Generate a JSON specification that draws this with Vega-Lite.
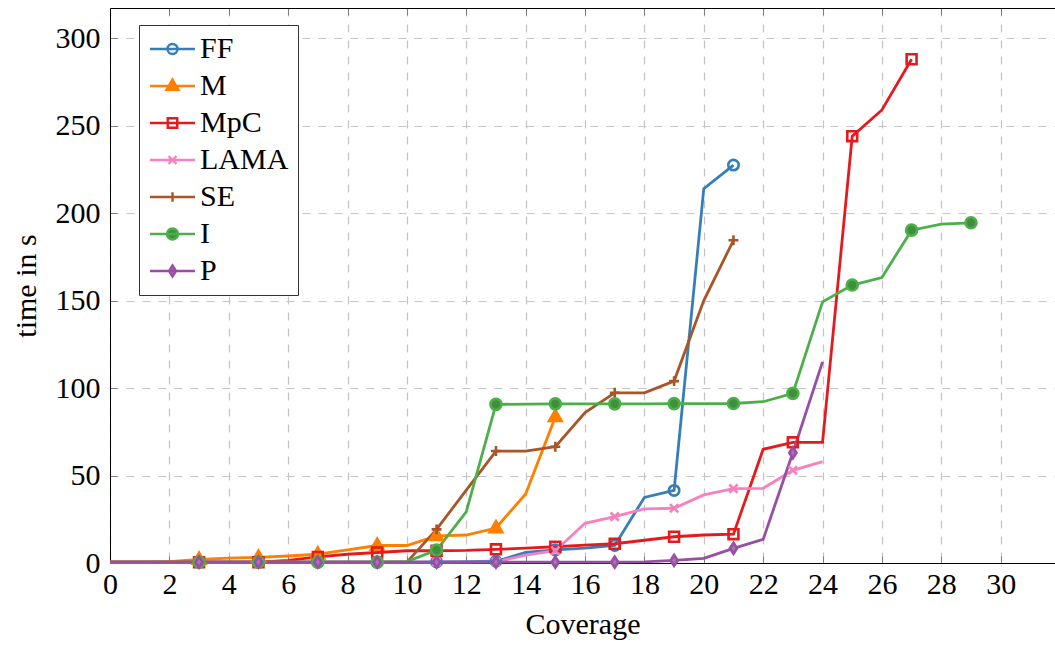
{
  "$schema": "https://vega.github.io/schema/vega-lite/v6.json",
  "autosize": "none",
  "padding": {"left": 110, "top": 8, "right": 0, "bottom": 85},
  "width": 945,
  "height": 555,
  "data": {"values": [
    {"s":"FF","x":0,"y":0.5},{"s":"FF","x":1,"y":0.5},{"s":"FF","x":2,"y":0.5},{"s":"FF","x":3,"y":0.5},{"s":"FF","x":4,"y":0.5},{"s":"FF","x":5,"y":0.5},{"s":"FF","x":6,"y":0.5},{"s":"FF","x":7,"y":0.5},{"s":"FF","x":8,"y":0.5},{"s":"FF","x":9,"y":0.5},{"s":"FF","x":10,"y":0.5},{"s":"FF","x":11,"y":0.6},{"s":"FF","x":12,"y":0.8},{"s":"FF","x":13,"y":1},{"s":"FF","x":14,"y":6},{"s":"FF","x":15,"y":7.5},{"s":"FF","x":16,"y":8.5},{"s":"FF","x":17,"y":10},{"s":"FF","x":18,"y":37.5},{"s":"FF","x":19,"y":41.5},{"s":"FF","x":20,"y":214},{"s":"FF","x":21,"y":227.5},
    {"s":"M","x":0,"y":0.5},{"s":"M","x":1,"y":0.5},{"s":"M","x":2,"y":0.8},{"s":"M","x":3,"y":2},{"s":"M","x":4,"y":2.8},{"s":"M","x":5,"y":3.2},{"s":"M","x":6,"y":4},{"s":"M","x":7,"y":5},{"s":"M","x":8,"y":7.5},{"s":"M","x":9,"y":10},{"s":"M","x":10,"y":10},{"s":"M","x":11,"y":15.5},{"s":"M","x":12,"y":16},{"s":"M","x":13,"y":20},{"s":"M","x":14,"y":39.5},{"s":"M","x":15,"y":83.5},
    {"s":"MpC","x":0,"y":0.5},{"s":"MpC","x":1,"y":0.5},{"s":"MpC","x":2,"y":0.5},{"s":"MpC","x":3,"y":0.5},{"s":"MpC","x":4,"y":0.5},{"s":"MpC","x":5,"y":0.5},{"s":"MpC","x":6,"y":1.5},{"s":"MpC","x":7,"y":3.5},{"s":"MpC","x":8,"y":5},{"s":"MpC","x":9,"y":6},{"s":"MpC","x":10,"y":7},{"s":"MpC","x":11,"y":7},{"s":"MpC","x":12,"y":7.2},{"s":"MpC","x":13,"y":7.8},{"s":"MpC","x":14,"y":8.5},{"s":"MpC","x":15,"y":9.3},{"s":"MpC","x":16,"y":10.2},{"s":"MpC","x":17,"y":11},{"s":"MpC","x":18,"y":13},{"s":"MpC","x":19,"y":15},{"s":"MpC","x":20,"y":16},{"s":"MpC","x":21,"y":16.5},{"s":"MpC","x":22,"y":65},{"s":"MpC","x":23,"y":69},{"s":"MpC","x":24,"y":69},{"s":"MpC","x":25,"y":244},{"s":"MpC","x":26,"y":259},{"s":"MpC","x":27,"y":288},
    {"s":"LAMA","x":0,"y":0.5},{"s":"LAMA","x":1,"y":0.5},{"s":"LAMA","x":2,"y":0.5},{"s":"LAMA","x":3,"y":0.5},{"s":"LAMA","x":4,"y":0.5},{"s":"LAMA","x":5,"y":0.5},{"s":"LAMA","x":6,"y":0.5},{"s":"LAMA","x":7,"y":0.5},{"s":"LAMA","x":8,"y":0.5},{"s":"LAMA","x":9,"y":0.5},{"s":"LAMA","x":10,"y":0.5},{"s":"LAMA","x":11,"y":0.5},{"s":"LAMA","x":12,"y":0.5},{"s":"LAMA","x":13,"y":0.6},{"s":"LAMA","x":14,"y":4.5},{"s":"LAMA","x":15,"y":7},{"s":"LAMA","x":16,"y":22.7},{"s":"LAMA","x":17,"y":26.5},{"s":"LAMA","x":18,"y":31},{"s":"LAMA","x":19,"y":31.3},{"s":"LAMA","x":20,"y":38.9},{"s":"LAMA","x":21,"y":42.5},{"s":"LAMA","x":22,"y":42.7},{"s":"LAMA","x":23,"y":53},{"s":"LAMA","x":24,"y":58},
    {"s":"SE","x":0,"y":0.5},{"s":"SE","x":1,"y":0.5},{"s":"SE","x":2,"y":0.5},{"s":"SE","x":3,"y":0.5},{"s":"SE","x":4,"y":0.5},{"s":"SE","x":5,"y":0.5},{"s":"SE","x":6,"y":0.5},{"s":"SE","x":7,"y":0.5},{"s":"SE","x":8,"y":0.5},{"s":"SE","x":9,"y":0.5},{"s":"SE","x":10,"y":0.5},{"s":"SE","x":11,"y":19.2},{"s":"SE","x":12,"y":41.7},{"s":"SE","x":13,"y":64},{"s":"SE","x":14,"y":64},{"s":"SE","x":15,"y":66.5},{"s":"SE","x":16,"y":86},{"s":"SE","x":17,"y":97.3},{"s":"SE","x":18,"y":97.3},{"s":"SE","x":19,"y":104},{"s":"SE","x":20,"y":150},{"s":"SE","x":21,"y":184.5},
    {"s":"I","x":0,"y":0.5},{"s":"I","x":1,"y":0.5},{"s":"I","x":2,"y":0.5},{"s":"I","x":3,"y":0.5},{"s":"I","x":4,"y":0.5},{"s":"I","x":5,"y":0.5},{"s":"I","x":6,"y":0.5},{"s":"I","x":7,"y":0.5},{"s":"I","x":8,"y":0.5},{"s":"I","x":9,"y":0.5},{"s":"I","x":10,"y":0.8},{"s":"I","x":11,"y":7.4},{"s":"I","x":12,"y":29.3},{"s":"I","x":13,"y":90.7},{"s":"I","x":14,"y":90.8},{"s":"I","x":15,"y":91},{"s":"I","x":16,"y":91},{"s":"I","x":17,"y":91},{"s":"I","x":18,"y":91},{"s":"I","x":19,"y":91.1},{"s":"I","x":20,"y":91.1},{"s":"I","x":21,"y":91.2},{"s":"I","x":22,"y":92.2},{"s":"I","x":23,"y":97},{"s":"I","x":24,"y":149.3},{"s":"I","x":25,"y":158.9},{"s":"I","x":26,"y":163.2},{"s":"I","x":27,"y":190.3},{"s":"I","x":28,"y":193.7},{"s":"I","x":29,"y":194.5},
    {"s":"P","x":0,"y":0.5},{"s":"P","x":1,"y":0.5},{"s":"P","x":2,"y":0.5},{"s":"P","x":3,"y":0.5},{"s":"P","x":4,"y":0.5},{"s":"P","x":5,"y":0.5},{"s":"P","x":6,"y":0.5},{"s":"P","x":7,"y":0.5},{"s":"P","x":8,"y":0.5},{"s":"P","x":9,"y":0.5},{"s":"P","x":10,"y":0.5},{"s":"P","x":11,"y":0.5},{"s":"P","x":12,"y":0.5},{"s":"P","x":13,"y":0.5},{"s":"P","x":14,"y":0.5},{"s":"P","x":15,"y":0.5},{"s":"P","x":16,"y":0.5},{"s":"P","x":17,"y":0.5},{"s":"P","x":18,"y":0.7},{"s":"P","x":19,"y":1.5},{"s":"P","x":20,"y":2.7},{"s":"P","x":21,"y":8.4},{"s":"P","x":22,"y":13.5},{"s":"P","x":23,"y":63},{"s":"P","x":24,"y":115}
  ]},
  "layer": [
    {
      "mark": {"type": "line", "strokeWidth": 2.8},
      "encoding": {
        "x": {"field": "x", "type": "quantitative", "scale": {"domain": [0, 31.83], "nice": false, "zero": false},
              "axis": {"values": [0,2,4,6,8,10,12,14,16,18,20,22,24,26,28,30], "title": "Coverage", "grid": true}},
        "y": {"field": "y", "type": "quantitative", "scale": {"domain": [0, 317.3], "nice": false},
              "axis": {"values": [0,50,100,150,200,250,300], "title": "time in s", "grid": true}},
        "stroke": {"field": "s", "type": "nominal", "legend": null,
                   "scale": {"domain": ["FF","M","MpC","LAMA","SE","I","P"], "range": ["#377eb8","#ff7f00","#e41a1c","#f781bf","#a65628","#4daf4a","#984ea3"]}}
      }
    },
    {
      "transform": [{"filter": "datum.x >= 3 && datum.x % 2 == 1"}],
      "mark": {"type": "point", "size": 121, "strokeWidth": 2.6, "opacity": 1},
      "encoding": {
        "x": {"field": "x", "type": "quantitative", "axis": null},
        "y": {"field": "y", "type": "quantitative", "axis": {"values": [0,50,100,150,200,250,300], "title": "time in s", "grid": true}},
        "stroke": {"field": "s", "type": "nominal", "legend": null,
                   "scale": {"domain": ["FF","M","MpC","LAMA","SE","I","P"], "range": ["#377eb8","#ff7f00","#e41a1c","#f781bf","#a65628","#4daf4a","#984ea3"]}},
        "fill": {"field": "s", "type": "nominal", "legend": null,
                 "scale": {"domain": ["FF","M","MpC","LAMA","SE","I","P"], "range": ["transparent","#ff7f00","transparent","transparent","transparent","#3f8f3c","#ad6fb6"]}},
        "shape": {"field": "s", "type": "nominal", "legend": null,
                  "scale": {"domain": ["FF","M","MpC","LAMA","SE","I","P"], "range": [
                    "M-0.95,0A0.95,0.95 0 1,0 0.95,0A0.95,0.95 0 1,0 -0.95,0Z",
                    "M0,-1.25L1.15,0.75L-1.15,0.75Z",
                    "M-0.9,-0.9H0.9V0.9H-0.9Z",
                    "M-0.75,-0.75L0.75,0.75M-0.75,0.75L0.75,-0.75",
                    "M-0.9,0H0.9M0,-0.9V0.9",
                    "M-1,0A1,1 0 1,0 1,0A1,1 0 1,0 -1,0Z",
                    "M0,-1L0.65,0L0,1L-0.65,0Z"]}}
      }
    },
    {
      "transform": [{"filter": "datum.x == 0"}],
      "mark": {"type": "point", "size": 100, "strokeWidth": 2.4, "opacity": 0},
      "encoding": {
        "x": {"field": "x", "type": "quantitative",
              "axis": {"orient": "top", "values": [0,2,4,6,8,10,12,14,16,18,20,22,24,26,28,30], "labels": false, "grid": false, "title": null}},
        "y": {"field": "y", "type": "quantitative", "axis": {"values": [0,50,100,150,200,250,300], "title": "time in s", "grid": true}},
        "stroke": {"field": "s", "type": "nominal",
                   "scale": {"domain": ["FF","M","MpC","LAMA","SE","I","P"], "range": ["#377eb8","#ff7f00","#e41a1c","#f781bf","#a65628","#4daf4a","#984ea3"]},
                   "legend": {
                    "title": null, "orient": "none", "legendX": 29, "legendY": 17,
                    "padding": 9, "rowPadding": 7, "symbolSize": 100, "symbolStrokeWidth": 2.4, "symbolOpacity": 1,
                    "symbolOffset": 9.5, "labelOffset": 12.5, "labelFontSize": 30, "labelFont": "Liberation Serif", "labelColor": "black",
                    "fillColor": "white", "strokeColor": "#333333", "cornerRadius": 0}},
        "fill": {"field": "s", "type": "nominal",
                 "scale": {"domain": ["FF","M","MpC","LAMA","SE","I","P"], "range": ["transparent","#ff7f00","transparent","transparent","transparent","#3f8f3c","#ad6fb6"]},
                 "legend": {
                    "title": null, "orient": "none", "legendX": 29, "legendY": 17,
                    "padding": 9, "rowPadding": 7, "symbolSize": 100, "symbolStrokeWidth": 2.4, "symbolOpacity": 1,
                    "symbolOffset": 9.5, "labelOffset": 12.5, "labelFontSize": 30, "labelFont": "Liberation Serif", "labelColor": "black",
                    "fillColor": "white", "strokeColor": "#333333", "cornerRadius": 0}},
        "shape": {"field": "s", "type": "nominal",
                  "scale": {"domain": ["FF","M","MpC","LAMA","SE","I","P"], "range": [
                    "M-4.5,0H4.5M-1,0A1,1 0 1,0 1,0A1,1 0 1,0 -1,0Z",
                    "M-4.5,0H4.5M0,-1.3L1.2,0.75L-1.2,0.75Z",
                    "M-4.5,0H4.5M-0.95,-0.95H0.95V0.95H-0.95Z",
                    "M-4.5,0H4.5M-0.8,-0.8L0.8,0.8M-0.8,0.8L0.8,-0.8",
                    "M-4.5,0H4.5M-0.95,0H0.95M0,-0.95V0.95",
                    "M-4.5,0H4.5M-1.1,0A1.1,1.1 0 1,0 1.1,0A1.1,1.1 0 1,0 -1.1,0Z",
                    "M-4.5,0H4.5M0,-1.1L0.7,0L0,1.1L-0.7,0Z"]},
                  "legend": {
                    "title": null, "orient": "none", "legendX": 29, "legendY": 17,
                    "padding": 9, "rowPadding": 7, "symbolSize": 100, "symbolStrokeWidth": 2.4, "symbolOpacity": 1,
                    "symbolOffset": 9.5, "labelOffset": 12.5, "labelFontSize": 30, "labelFont": "Liberation Serif", "labelColor": "black",
                    "fillColor": "white", "strokeColor": "#333333", "cornerRadius": 0}}
      }
    }
  ],
  "resolve": {"scale": {"shape": "independent", "stroke": "independent", "fill": "independent"}, "axis": {"x": "independent"}},
  "config": {
    "font": "Liberation Serif",
    "view": {"stroke": null},
    "axis": {
      "domainColor": "black", "domainWidth": 1,
      "tickColor": "#7f7f7f", "tickSize": -7, "tickWidth": 1,
      "gridColor": "#c4c4c4", "gridDash": [8, 8], "gridWidth": 1.2,
      "labelFont": "Liberation Serif", "labelFontSize": 30, "labelColor": "black",
      "titleFont": "Liberation Serif", "titleFontSize": 30, "titleFontWeight": "normal", "titleColor": "black"
    },
    "axisX": {"labelFlush": false, "labelBaseline": "alphabetic", "labelPadding": 37.5, "titleY": 70, "titleBaseline": "alphabetic"},
    "axisY": {"labelPadding": 17, "titleX": -75, "titleBaseline": "alphabetic"}
  }
}
